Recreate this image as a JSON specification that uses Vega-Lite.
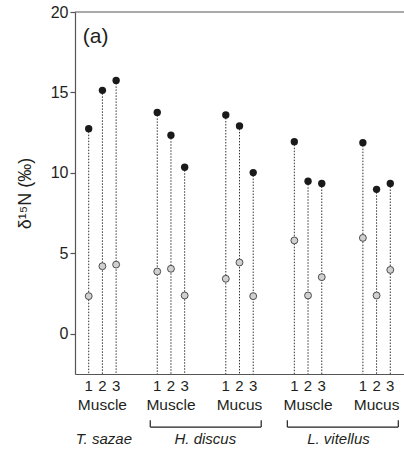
{
  "$schema": "https://vega.github.io/schema/vega-lite/v6.json",
  "width": 329,
  "height": 362,
  "autosize": {"type": "none"},
  "padding": {"left": 75, "top": 12, "right": 0, "bottom": 78},
  "config": {"view": {"stroke": null}, "font": "Liberation Sans", "text": {"font": "Liberation Sans", "color": "#231f20"}},
  "datasets": {
    "samples": [
      {"id": "TsMu1", "species": "T. sazae", "tissue": "Muscle", "sample": "1", "dark": 12.75, "light": 2.34},
      {"id": "TsMu2", "species": "T. sazae", "tissue": "Muscle", "sample": "2", "dark": 15.13, "light": 4.2},
      {"id": "TsMu3", "species": "T. sazae", "tissue": "Muscle", "sample": "3", "dark": 15.75, "light": 4.3},
      {"id": "HdMu1", "species": "H. discus", "tissue": "Muscle", "sample": "1", "dark": 13.76, "light": 3.87},
      {"id": "HdMu2", "species": "H. discus", "tissue": "Muscle", "sample": "2", "dark": 12.34, "light": 4.04},
      {"id": "HdMu3", "species": "H. discus", "tissue": "Muscle", "sample": "3", "dark": 10.35, "light": 2.38},
      {"id": "HdMc1", "species": "H. discus", "tissue": "Mucus", "sample": "1", "dark": 13.6, "light": 3.42},
      {"id": "HdMc2", "species": "H. discus", "tissue": "Mucus", "sample": "2", "dark": 12.92, "light": 4.43},
      {"id": "HdMc3", "species": "H. discus", "tissue": "Mucus", "sample": "3", "dark": 10.02, "light": 2.34},
      {"id": "LvMu1", "species": "L. vitellus", "tissue": "Muscle", "sample": "1", "dark": 11.94, "light": 5.8},
      {"id": "LvMu2", "species": "L. vitellus", "tissue": "Muscle", "sample": "2", "dark": 9.48, "light": 2.38},
      {"id": "LvMu3", "species": "L. vitellus", "tissue": "Muscle", "sample": "3", "dark": 9.34, "light": 3.52},
      {"id": "LvMc1", "species": "L. vitellus", "tissue": "Mucus", "sample": "1", "dark": 11.88, "light": 5.96},
      {"id": "LvMc2", "species": "L. vitellus", "tissue": "Mucus", "sample": "2", "dark": 8.98, "light": 2.38},
      {"id": "LvMc3", "species": "L. vitellus", "tissue": "Mucus", "sample": "3", "dark": 9.34, "light": 3.97}
    ],
    "brackets": [
      {"species": "H. discus", "from": "HdMu1", "to": "HdMc3"},
      {"species": "L. vitellus", "from": "LvMu1", "to": "LvMc3"}
    ]
  },
  "layer": [
    {
      "data": {"name": "samples"},
      "mark": {"type": "rule", "strokeDash": [1.5, 1.5], "color": "#333333", "strokeWidth": 1},
      "encoding": {
        "x": {
          "field": "id", "type": "nominal",
          "scale": {"type": "point", "padding": 1.5, "domain": ["TsMu1", "TsMu2", "TsMu3", "g1", "g2", "HdMu1", "HdMu2", "HdMu3", "g3", "g4", "HdMc1", "HdMc2", "HdMc3", "g5", "g6", "LvMu1", "LvMu2", "LvMu3", "g7", "g8", "LvMc1", "LvMc2", "LvMc3"]},
          "axis": {"orient": "bottom", "labels": false, "ticks": false, "title": null, "grid": false, "domainColor": "#555555", "domainWidth": 1.2}
        },
        "y": {
          "field": "dark", "type": "quantitative",
          "scale": {"domain": [-2.5, 20], "nice": false, "zero": false},
          "axis": {"values": [0, 5, 10, 15, 20], "grid": false, "tickSize": 5, "labelPadding": 2, "labelFontSize": 16, "labelFont": "Liberation Sans", "labelColor": "#231f20", "tickColor": "#555555", "domainColor": "#555555", "domainWidth": 1.2, "tickWidth": 1.2, "title": "δ¹⁵N (‰)", "titleFont": "Liberation Sans", "titleFontSize": 18, "titleFontWeight": "normal", "titleColor": "#231f20", "titlePadding": 16}
        },
        "y2": {"datum": -2.5}
      }
    },
    {
      "data": {"name": "samples"},
      "mark": {"type": "circle", "size": 48, "fill": "#d0d0d0", "stroke": "#2b2b2b", "strokeWidth": 0.8, "opacity": 1},
      "encoding": {"x": {"field": "id", "type": "nominal"}, "y": {"field": "light", "type": "quantitative"}}
    },
    {
      "data": {"name": "samples"},
      "mark": {"type": "circle", "size": 54, "color": "#1a1a1a", "opacity": 1},
      "encoding": {"x": {"field": "id", "type": "nominal"}, "y": {"field": "dark", "type": "quantitative"}}
    },
    {
      "data": {"values": [{}]},
      "mark": {"type": "rule", "color": "#555555", "strokeWidth": 1.2},
      "encoding": {"y": {"datum": 20}}
    },
    {
      "data": {"values": [{}]},
      "mark": {"type": "text", "fontSize": 21, "align": "left", "baseline": "middle", "dx": -6},
      "encoding": {"x": {"datum": "TsMu1"}, "y": {"datum": 18.43}, "text": {"value": "(a)"}}
    },
    {
      "data": {"name": "samples"},
      "mark": {"type": "text", "fontSize": 15, "baseline": "middle", "align": "center"},
      "encoding": {"x": {"field": "id", "type": "nominal"}, "y": {"datum": -3.25}, "text": {"field": "sample"}}
    },
    {
      "data": {"name": "samples"},
      "transform": [{"filter": "datum.sample == '2'"}],
      "mark": {"type": "text", "fontSize": 15.5, "baseline": "middle", "align": "center"},
      "encoding": {"x": {"field": "id", "type": "nominal"}, "y": {"datum": -4.43}, "text": {"field": "tissue"}}
    },
    {
      "data": {"name": "brackets"},
      "mark": {"type": "rule", "color": "#231f20", "strokeWidth": 1.2, "xOffset": -7, "x2Offset": 8},
      "encoding": {"x": {"field": "from", "type": "nominal"}, "x2": {"field": "to"}, "y": {"datum": -5.8}}
    },
    {
      "data": {"name": "brackets"},
      "mark": {"type": "rule", "color": "#231f20", "strokeWidth": 1.2, "xOffset": -7},
      "encoding": {"x": {"field": "from", "type": "nominal"}, "y": {"datum": -5.37}, "y2": {"datum": -5.8}}
    },
    {
      "data": {"name": "brackets"},
      "mark": {"type": "rule", "color": "#231f20", "strokeWidth": 1.2, "xOffset": 8},
      "encoding": {"x": {"field": "to", "type": "nominal"}, "y": {"datum": -5.37}, "y2": {"datum": -5.8}}
    },
    {
      "data": {"values": [{}]},
      "mark": {"type": "text", "fontSize": 15, "fontStyle": "italic", "baseline": "middle", "align": "center", "dx": 1.5},
      "encoding": {"x": {"datum": "TsMu2"}, "y": {"datum": -6.52}, "text": {"value": "T. sazae"}}
    },
    {
      "data": {"values": [{}]},
      "mark": {"type": "text", "fontSize": 15, "fontStyle": "italic", "baseline": "middle", "align": "center", "dx": 7},
      "encoding": {"x": {"datum": "g3"}, "y": {"datum": -6.52}, "text": {"value": "H. discus"}}
    },
    {
      "data": {"values": [{}]},
      "mark": {"type": "text", "fontSize": 15, "fontStyle": "italic", "baseline": "middle", "align": "center", "dx": 3},
      "encoding": {"x": {"datum": "g7"}, "y": {"datum": -6.52}, "text": {"value": "L. vitellus"}}
    }
  ]
}
